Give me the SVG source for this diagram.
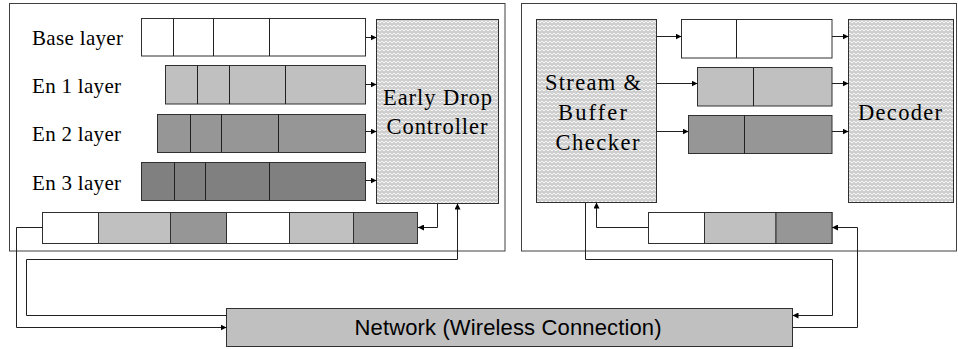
<svg xmlns="http://www.w3.org/2000/svg" width="958" height="349" viewBox="0 0 958 349">
  <style>
    .frame { fill: #ffffff; stroke: #404040; stroke-width: 1; }
    .cell { stroke: #303030; stroke-width: 1; }
    .white { fill: #ffffff; }
    .light { fill: #c0c0c0; }
    .mid { fill: #969696; }
    .dark { fill: #808080; }
    .unit { fill: url(#weave); stroke: #303030; stroke-width: 1; }
    .serif { font-family: "Liberation Serif", "Times New Roman", serif; font-size: 21px; fill: #000000; }
    .big { font-size: 22.5px; }
    .sans { font-family: "Liberation Sans", Arial, sans-serif; font-size: 22px; fill: #000000; }
    .wire { fill: none; stroke: #202020; stroke-width: 1; }
    .arrow { fill: none; stroke: #202020; stroke-width: 1; marker-end: url(#head); }
  </style>
  <defs>
    <marker id="head" viewBox="0 0 10 10" refX="10" refY="5" markerWidth="6" markerHeight="6" markerUnits="userSpaceOnUse" orient="auto">
      <path d="M0,0 L10,5 L0,10 z" fill="#000000"/>
    </marker>
    <!-- woven light-grey texture for the processing units -->
    <pattern id="weave" width="8" height="8" patternUnits="userSpaceOnUse">
      <rect width="8" height="8" fill="#cfcfcf"/>
      <path d="M0,3 L2,1 L4,3 L6,1 L8,3 M0,7 L2,5 L4,7 L6,5 L8,7" fill="none" stroke="#f6f6f6" stroke-width="1"/>
    </pattern>
  </defs>

  <!-- sender side -->
  <g id="sender">
    <rect class="frame" x="9.5" y="3.5" width="495.5" height="247.5"/>
  </g>

  <g id="base-layer">
    <text class="serif" x="32" y="45" textLength="91" lengthAdjust="spacing">Base layer</text>
    <rect class="cell white" x="141.5" y="18.5" width="224" height="37.5"/>
    <path class="wire" d="M173.5,18.5 V56 M213.5,18.5 V56 M269.5,18.5 V56"/>
  </g>
  <g id="en1-layer">
    <text class="serif" x="32" y="93" textLength="89" lengthAdjust="spacing">En 1 layer</text>
    <rect class="cell light" x="165.5" y="65.5" width="200" height="38.5"/>
    <path class="wire" d="M197.5,65.5 V104 M229.5,65.5 V104 M285.5,65.5 V104"/>
  </g>
  <g id="en2-layer">
    <text class="serif" x="32" y="141" textLength="89" lengthAdjust="spacing">En 2 layer</text>
    <rect class="cell mid" x="157.5" y="114.5" width="208" height="38"/>
    <path class="wire" d="M190.5,114.5 V152.5 M221.5,114.5 V152.5 M278.5,114.5 V152.5"/>
  </g>
  <g id="en3-layer">
    <text class="serif" x="32" y="189.5" textLength="89" lengthAdjust="spacing">En 3 layer</text>
    <rect class="cell dark" x="141.5" y="162.5" width="224" height="38"/>
    <path class="wire" d="M174.5,162.5 V200.5 M205.5,162.5 V200.5 M269.5,162.5 V200.5"/>
  </g>

  <g id="early-drop-controller">
    <rect class="unit" x="376.5" y="19.5" width="122" height="184"/>
    <text class="serif big" x="437.5" y="105" text-anchor="middle" textLength="109" lengthAdjust="spacing">Early Drop</text>
    <text class="serif big" x="437" y="134" text-anchor="middle" textLength="101" lengthAdjust="spacing">Controller</text>
  </g>

  <g id="send-queue">
    <rect class="cell white" x="42.5" y="212.5" width="375" height="31"/>
    <rect class="cell light" x="98.5" y="212.5" width="72" height="31"/>
    <rect class="cell mid" x="170.5" y="212.5" width="56" height="31"/>
    <rect class="cell light" x="289.5" y="212.5" width="64" height="31"/>
    <rect class="cell mid" x="353.5" y="212.5" width="64" height="31"/>
  </g>

  <!-- receiver side -->
  <g id="receiver">
    <rect class="frame" x="521.5" y="3.5" width="435" height="247.5"/>
  </g>

  <g id="stream-buffer-checker">
    <rect class="unit" x="536.5" y="19.5" width="120" height="183"/>
    <text class="serif big" x="593" y="89.5" text-anchor="middle" textLength="96" lengthAdjust="spacing">Stream &amp;</text>
    <text class="serif big" x="592.5" y="119.5" text-anchor="middle" textLength="69" lengthAdjust="spacing">Buffer</text>
    <text class="serif big" x="597.5" y="150" text-anchor="middle" textLength="84" lengthAdjust="spacing">Checker</text>
  </g>

  <g id="rx-base">
    <rect class="cell white" x="681.5" y="19.5" width="150.5" height="38.5"/>
    <path class="wire" d="M736.5,19.5 V58"/>
  </g>
  <g id="rx-en1">
    <rect class="cell light" x="697.5" y="67.5" width="134.5" height="38.5"/>
    <path class="wire" d="M753.5,67.5 V106"/>
  </g>
  <g id="rx-en2">
    <rect class="cell mid" x="688.5" y="115.5" width="143.5" height="38"/>
    <path class="wire" d="M744.5,115.5 V153.5"/>
  </g>

  <g id="decoder">
    <rect class="unit" x="848.5" y="19.5" width="105" height="183"/>
    <text class="serif big" x="900" y="119.5" text-anchor="middle" textLength="84" lengthAdjust="spacing">Decoder</text>
  </g>

  <g id="receive-queue">
    <rect class="cell white" x="648.5" y="212.5" width="183.5" height="31"/>
    <rect class="cell light" x="704.5" y="212.5" width="71.5" height="31"/>
    <rect class="cell mid" x="776" y="212.5" width="56" height="31"/>
  </g>

  <g id="network">
    <rect class="cell light" x="226.5" y="308.5" width="566" height="38"/>
    <text class="sans" x="508" y="334.5" text-anchor="middle" textLength="307" lengthAdjust="spacing">Network (Wireless Connection)</text>
  </g>

  <g id="connectors">
    <!-- layer queues into the drop controller -->
    <path class="arrow" d="M365.5,37.5 H376.5"/>
    <path class="arrow" d="M365.5,84.5 H376.5"/>
    <path class="arrow" d="M365.5,131.5 H376.5"/>
    <path class="arrow" d="M365.5,180.5 H376.5"/>
    <!-- controller output into the send queue -->
    <path class="arrow" d="M437.5,203.5 V227.5 H418"/>
    <!-- send queue to the network -->
    <path class="arrow" d="M42.5,227.5 H16.5 V327.5 H226.5"/>
    <!-- network feedback to the controller -->
    <path class="arrow" d="M226.5,315.5 H26.5 V259.5 H457.5 V203.5"/>

    <!-- checker to the receive buffers -->
    <path class="arrow" d="M656.5,36.5 H681.5"/>
    <path class="arrow" d="M656.5,83.5 H697.5"/>
    <path class="arrow" d="M656.5,131.5 H688.5"/>
    <!-- receive buffers to the decoder -->
    <path class="arrow" d="M832,36.5 H848.5"/>
    <path class="arrow" d="M832,83.5 H848.5"/>
    <path class="arrow" d="M832,131.5 H848.5"/>
    <!-- receive queue into the checker -->
    <path class="arrow" d="M648.5,227.5 H596.5 V202.5"/>
    <!-- checker feedback to the network -->
    <path class="arrow" d="M585.5,202.5 V259.5 H832.5 V315.5 H792.5"/>
    <!-- network into the receive queue -->
    <path class="arrow" d="M792.5,327.5 H857.5 V227.5 H832"/>
  </g>
</svg>
